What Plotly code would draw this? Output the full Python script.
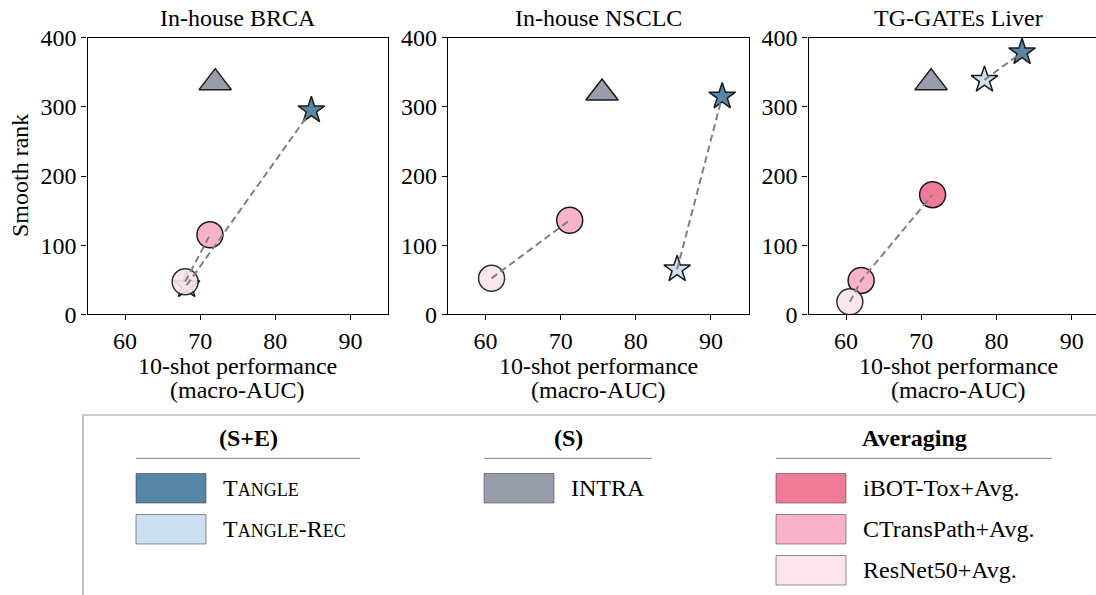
import plotly.graph_objects as go

W, H = 1096, 595

# ---------------- data ----------------
panel_titles = ["In-house BRCA", "In-house NSCLC", "TG-GATEs Liver"]

tangle_x = [84.8, 91.5, 83.4]
tangle_y = [295, 315, 379]
tangle_rec_x = [68.2, 85.5, 78.4]
tangle_rec_y = [42, 65, 339]
intra_x = [72.0, 75.5, 71.3]
intra_y = [335, 320, 335]
ibot_x = [None, None, 71.5]
ibot_y = [None, None, 173]
ctrans_x = [71.3, 71.2, 62.0]
ctrans_y = [115, 136, 49]
resnet_x = [68.0, 60.8, 60.5]
resnet_y = [47, 52, 18]

x_ticks = [60, 70, 80, 90]
y_ticks = [0, 100, 200, 300, 400]

colors = {
    "TANGLE": "#5686a6",
    "TANGLE-Rec": "#cde0f1",
    "INTRA": "#979dab",
    "iBOT": "#f07b99",
    "CTransPath": "#f8b3c9",
    "ResNet50": "#fbe4ec",
}

FONT = "Liberation Serif, Times New Roman, serif"
FS = 24
EDGE = "#1a1a1a"


def px(x):
    return x / W


def py(y):
    return 1 - y / H


x_domains_px = [(87.5, 388.0), (448.0, 748.5), (808.5, 1096.0)]
y_top, y_bot = 37.7, 314.3
x_ranges = [[55, 95], [55, 95], [55, 55 + (1096 - 808.5) / 7.52]]
panel_centers = [237.7, 598.2, 958.0]

fig = go.Figure()

for i in range(3):
    xa = "x" if i == 0 else f"x{i+1}"
    ya = "y" if i == 0 else f"y{i+1}"

    def add_marker(xs, ys, symbol, size, color, opacity=1.0):
        if xs[i] is None:
            return
        fig.add_trace(go.Scatter(
            x=[xs[i]], y=[ys[i]], mode="markers", xaxis=xa, yaxis=ya,
            showlegend=False, opacity=opacity,
            marker=dict(symbol=symbol, size=size, color=color,
                        line=dict(color=EDGE, width=1.5)),
        ))

    add_marker(intra_x, intra_y, "triangle-up", 28, colors["INTRA"])
    add_marker(tangle_x, tangle_y, "star", 20, colors["TANGLE"])
    add_marker(tangle_rec_x, tangle_rec_y, "star", 20, colors["TANGLE-Rec"])
    add_marker(ibot_x, ibot_y, "circle", 26, colors["iBOT"])
    add_marker(ctrans_x, ctrans_y, "circle", 26, colors["CTransPath"])
    add_marker(resnet_x, resnet_y, "circle", 26, colors["ResNet50"], opacity=0.9)

    # dashed connectors (drawn on top of markers)
    fig.add_trace(go.Scatter(
        x=[tangle_rec_x[i], tangle_x[i]], y=[tangle_rec_y[i], tangle_y[i]],
        mode="lines", xaxis=xa, yaxis=ya, showlegend=False,
        line=dict(color="#808080", width=2, dash="7px,4px"),
    ))
    avg = [(a, b) for a, b in zip([resnet_x[i], ctrans_x[i], ibot_x[i]],
                                  [resnet_y[i], ctrans_y[i], ibot_y[i]]) if a is not None]
    avg.sort()
    fig.add_trace(go.Scatter(
        x=[p[0] for p in avg], y=[p[1] for p in avg],
        mode="lines", xaxis=xa, yaxis=ya, showlegend=False,
        line=dict(color="#808080", width=2, dash="7px,4px"),
    ))

axis_common = dict(
    showgrid=False, zeroline=False, showline=True, linecolor="black",
    linewidth=1.2, ticks="outside", ticklen=5, tickwidth=1.2, tickcolor="black",
    tickfont=dict(family=FONT, size=FS, color="black"), automargin=False,
)

layout_axes = {}
for i in range(3):
    xk = "xaxis" if i == 0 else f"xaxis{i+1}"
    yk = "yaxis" if i == 0 else f"yaxis{i+1}"
    d0, d1 = x_domains_px[i]
    layout_axes[xk] = dict(
        axis_common, domain=[px(d0), min(1.0, px(d1))], range=x_ranges[i],
        tickvals=x_ticks, mirror=True,
        anchor="y" if i == 0 else f"y{i+1}",
    )
    layout_axes[yk] = dict(
        axis_common, domain=[py(y_bot), py(y_top)], range=[0, 400],
        tickvals=y_ticks, mirror=(i < 2),
        anchor="x" if i == 0 else f"x{i+1}",
    )

annotations = []
for i in range(3):
    annotations.append(dict(
        text=panel_titles[i], x=px(panel_centers[i]), y=py(18), xref="paper", yref="paper",
        showarrow=False, font=dict(family=FONT, size=FS, color="black"),
        xanchor="center", yanchor="middle"))
    for line_text, yy in (("10-shot performance", 366), ("(macro-AUC)", 390)):
        annotations.append(dict(
            text=line_text, x=px(panel_centers[i]), y=py(yy),
            xref="paper", yref="paper", showarrow=False,
            font=dict(family=FONT, size=FS, color="black"),
            xanchor="center", yanchor="middle"))

annotations.append(dict(
    text="Smooth rank", x=px(20), y=py(176), xref="paper", yref="paper",
    showarrow=False, textangle=-90, font=dict(family=FONT, size=FS, color="black"),
    xanchor="center", yanchor="middle"))

# ---------------- custom legend ----------------
SC = "font-size:18px"
legend_headers = ["(S+E)", "(S)", "Averaging"]
legend_groups = [
    [("T<span style='%s'>ANGLE</span>" % SC, colors["TANGLE"]),
     ("T<span style='%s'>ANGLE</span>-R<span style='%s'>EC</span>" % (SC, SC), colors["TANGLE-Rec"])],
    [("INTRA", colors["INTRA"])],
    [("iBOT-Tox+Avg.", colors["iBOT"]),
     ("CTransPath+Avg.", colors["CTransPath"]),
     ("ResNet50+Avg.", colors["ResNet50"])],
]
col_lines = [(136, 360), (484, 652), (776, 1052)]
patch_w = 70
row_tops = [473.5, 514.5, 555.5]
row_h = 29.5

shapes = []
shapes.append(dict(type="rect", xref="paper", yref="paper",
                   x0=px(83), x1=1.05, y0=-0.05, y1=py(415),
                   line=dict(color="#999999", width=1.2), fillcolor="rgba(0,0,0,0)"))

for c in range(3):
    l0, l1 = col_lines[c]
    annotations.append(dict(
        text="<b>%s</b>" % legend_headers[c], x=px((l0 + l1) / 2), y=py(438),
        xref="paper", yref="paper", showarrow=False,
        font=dict(family=FONT, size=FS, color="black"),
        xanchor="center", yanchor="middle"))
    shapes.append(dict(type="line", xref="paper", yref="paper",
                       x0=px(l0), x1=px(l1), y0=py(458.3), y1=py(458.3),
                       line=dict(color="#999999", width=1.2)))
    for r, (lab, col) in enumerate(legend_groups[c]):
        t = row_tops[r]
        shapes.append(dict(type="rect", xref="paper", yref="paper",
                           x0=px(l0), x1=px(l0 + patch_w), y0=py(t + row_h), y1=py(t),
                           fillcolor=col, line=dict(color="rgba(60,60,60,0.55)", width=1)))
        annotations.append(dict(
            text=lab, x=px(l0 + patch_w + 15), y=py(t + row_h / 2),
            xref="paper", yref="paper", showarrow=False,
            font=dict(family=FONT, size=FS, color="black"),
            xanchor="left", yanchor="middle"))

fig.update_layout(
    width=W, height=H, autosize=False,
    margin=dict(l=0, r=0, t=0, b=0, pad=0, autoexpand=False),
    paper_bgcolor="white", plot_bgcolor="white",
    showlegend=False,
    annotations=annotations, shapes=shapes,
    font=dict(family=FONT, size=FS, color="black"),
    **layout_axes,
)

fig.write_html("out.html")
